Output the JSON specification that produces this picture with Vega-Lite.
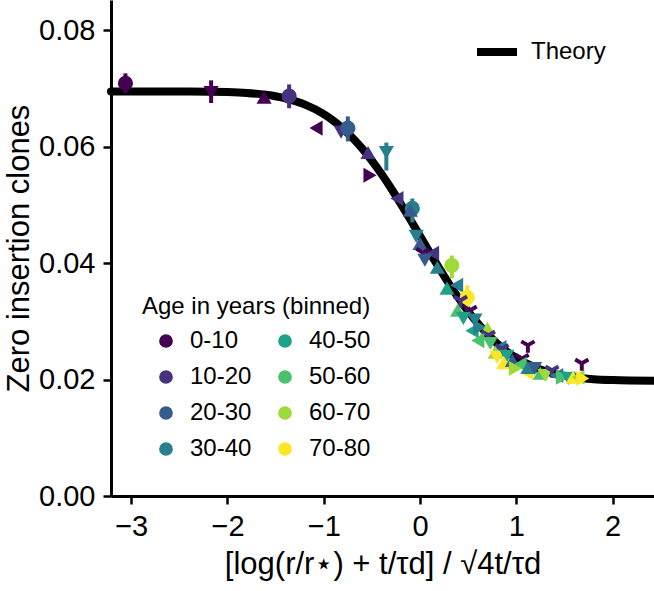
{
  "$schema": "https://vega.github.io/schema/vega-lite/v6.json",
  "width": 543,
  "height": 496,
  "autosize": {"type": "none"},
  "padding": {"left": 111, "top": 0, "right": 0, "bottom": 95},
  "background": "white",
  "config": {
    "view": {"stroke": null},
    "font": "Liberation Sans",
    "axis": {
      "grid": false,
      "domainColor": "black",
      "domainWidth": 3,
      "tickColor": "black",
      "tickWidth": 2.5,
      "tickSize": 8,
      "labelColor": "black",
      "labelFont": "Liberation Sans",
      "labelFontSize": 29,
      "labelPadding": 6,
      "titleColor": "black",
      "titleFont": "Liberation Sans",
      "titleFontSize": 31,
      "titleFontWeight": "normal"
    },
    "legend": {
      "labelFont": "Liberation Sans",
      "titleFont": "Liberation Sans",
      "labelColor": "black",
      "titleColor": "black"
    }
  },
  "datasets": {
    "theory": [
      {"x": -3.21, "y": 0.0695, "label": "Theory"},
      {"x": -2.4, "y": 0.06948, "label": "Theory"},
      {"x": -2.0, "y": 0.06938, "label": "Theory"},
      {"x": -1.8, "y": 0.06923, "label": "Theory"},
      {"x": -1.6, "y": 0.06891, "label": "Theory"},
      {"x": -1.4, "y": 0.06831, "label": "Theory"},
      {"x": -1.2, "y": 0.06727, "label": "Theory"},
      {"x": -1.0, "y": 0.06559, "label": "Theory"},
      {"x": -0.9, "y": 0.06445, "label": "Theory"},
      {"x": -0.8, "y": 0.06309, "label": "Theory"},
      {"x": -0.7, "y": 0.06149, "label": "Theory"},
      {"x": -0.6, "y": 0.05966, "label": "Theory"},
      {"x": -0.5, "y": 0.05758, "label": "Theory"},
      {"x": -0.4, "y": 0.0553, "label": "Theory"},
      {"x": -0.3, "y": 0.05282, "label": "Theory"},
      {"x": -0.2, "y": 0.05018, "label": "Theory"},
      {"x": -0.1, "y": 0.04745, "label": "Theory"},
      {"x": 0.0, "y": 0.04465, "label": "Theory"},
      {"x": 0.1, "y": 0.04185, "label": "Theory"},
      {"x": 0.2, "y": 0.03912, "label": "Theory"},
      {"x": 0.3, "y": 0.03648, "label": "Theory"},
      {"x": 0.4, "y": 0.034, "label": "Theory"},
      {"x": 0.5, "y": 0.03172, "label": "Theory"},
      {"x": 0.6, "y": 0.02964, "label": "Theory"},
      {"x": 0.7, "y": 0.02781, "label": "Theory"},
      {"x": 0.8, "y": 0.02621, "label": "Theory"},
      {"x": 0.9, "y": 0.02485, "label": "Theory"},
      {"x": 1.0, "y": 0.02371, "label": "Theory"},
      {"x": 1.2, "y": 0.02203, "label": "Theory"},
      {"x": 1.4, "y": 0.02099, "label": "Theory"},
      {"x": 1.6, "y": 0.02039, "label": "Theory"},
      {"x": 1.8, "y": 0.02007, "label": "Theory"},
      {"x": 2.0, "y": 0.01992, "label": "Theory"},
      {"x": 2.43, "y": 0.0198, "label": "Theory"}
    ],
    "pts": [
      {"x": -3.06, "y": 0.0709, "age": "0-10", "m": "o", "lo": 0.0692, "hi": 0.0726},
      {"x": -2.17, "y": 0.0693, "age": "0-10", "m": "v", "lo": 0.0675, "hi": 0.0714},
      {"x": -1.62, "y": 0.0685, "age": "0-10", "m": "^"},
      {"x": -1.36, "y": 0.0687, "age": "10-20", "m": "o", "lo": 0.0666, "hi": 0.0707},
      {"x": -1.08, "y": 0.0632, "age": "0-10", "m": "<"},
      {"x": -0.82, "y": 0.0625, "age": "10-20", "m": "v"},
      {"x": -0.75, "y": 0.0632, "age": "20-30", "m": "o", "lo": 0.0609, "hi": 0.0652},
      {"x": -0.54, "y": 0.059, "age": "10-20", "m": "^"},
      {"x": -0.35, "y": 0.059, "age": "30-40", "m": "v", "lo": 0.0559, "hi": 0.0607},
      {"x": -0.52, "y": 0.0551, "age": "0-10", "m": ">"},
      {"x": -0.24, "y": 0.0511, "age": "10-20", "m": "<"},
      {"x": -0.08, "y": 0.0494, "age": "30-40", "m": "o", "lo": 0.047, "hi": 0.0511},
      {"x": -0.1, "y": 0.0491, "age": "20-30", "m": "^"},
      {"x": -0.04, "y": 0.0446, "age": "30-40", "m": "v"},
      {"x": 0.0, "y": 0.0434, "age": "20-30", "m": "^"},
      {"x": 0.03, "y": 0.0418, "age": "0-10", "m": "Y"},
      {"x": 0.13, "y": 0.0417, "age": "10-20", "m": "<"},
      {"x": 0.05, "y": 0.0405, "age": "20-30", "m": "v"},
      {"x": 0.18, "y": 0.0393, "age": "30-40", "m": "^"},
      {"x": 0.33, "y": 0.0396, "age": "60-70", "m": "o", "lo": 0.0374, "hi": 0.0413},
      {"x": 0.28, "y": 0.0357, "age": "40-50", "m": "^"},
      {"x": 0.38, "y": 0.0362, "age": "30-40", "m": "<"},
      {"x": 0.49, "y": 0.0341, "age": "70-80", "m": "o", "lo": 0.0319, "hi": 0.0362},
      {"x": 0.42, "y": 0.0336, "age": "10-20", "m": "Y"},
      {"x": 0.39, "y": 0.0319, "age": "50-60", "m": "^"},
      {"x": 0.52, "y": 0.0319, "age": "0-10", "m": "Y"},
      {"x": 0.45, "y": 0.0305, "age": "40-50", "m": "v"},
      {"x": 0.57, "y": 0.0302, "age": "30-40", "m": "v"},
      {"x": 0.54, "y": 0.0284, "age": "40-50", "m": "<"},
      {"x": 0.62, "y": 0.029, "age": "30-40", "m": ">"},
      {"x": 0.7, "y": 0.0288, "age": "60-70", "m": "^"},
      {"x": 0.71, "y": 0.0276, "age": "10-20", "m": "Y"},
      {"x": 0.6, "y": 0.0267, "age": "50-60", "m": "<"},
      {"x": 0.73, "y": 0.0262, "age": "50-60", "m": "v"},
      {"x": 0.83, "y": 0.0255, "age": "30-40", "m": "<"},
      {"x": 0.85, "y": 0.0253, "age": "10-20", "m": "Y"},
      {"x": 0.78, "y": 0.0247, "age": "60-70", "m": "^"},
      {"x": 0.8, "y": 0.0238, "age": "70-80", "m": "v"},
      {"x": 0.9, "y": 0.024, "age": "40-50", "m": "v"},
      {"x": 0.87, "y": 0.0229, "age": "70-80", "m": "^"},
      {"x": 0.96, "y": 0.0233, "age": "20-30", "m": "^"},
      {"x": 1.06, "y": 0.0236, "age": "0-10", "m": "Y"},
      {"x": 1.04, "y": 0.0226, "age": "50-60", "m": "<"},
      {"x": 0.99, "y": 0.0219, "age": "60-70", "m": ">"},
      {"x": 1.11, "y": 0.0212, "age": "70-80", "m": "<"},
      {"x": 1.12, "y": 0.0221, "age": "30-40", "m": "^"},
      {"x": 1.19, "y": 0.0219, "age": "20-30", "m": "v"},
      {"x": 1.25, "y": 0.0211, "age": "50-60", "m": "^"},
      {"x": 1.3, "y": 0.0207, "age": "60-70", "m": "v"},
      {"x": 1.37, "y": 0.0216, "age": "10-20", "m": "Y"},
      {"x": 1.42, "y": 0.0207, "age": "30-40", "m": "<"},
      {"x": 1.48, "y": 0.0204, "age": "50-60", "m": ">"},
      {"x": 1.54, "y": 0.0202, "age": "40-50", "m": "v"},
      {"x": 1.59, "y": 0.0204, "age": "70-80", "m": "^"},
      {"x": 1.64, "y": 0.0204, "age": "60-70", "m": "<"},
      {"x": 1.69, "y": 0.0202, "age": "70-80", "m": ">"},
      {"x": 1.12, "y": 0.0259, "age": "0-10", "m": "Y"},
      {"x": 1.68, "y": 0.0228, "age": "0-10", "m": "Y"}
    ]
  },
  "layer": [
    {
      "data": {"name": "theory"},
      "mark": {"type": "line", "strokeWidth": 8, "strokeCap": "round", "interpolate": "monotone"},
      "encoding": {
        "x": {"field": "x", "type": "quantitative"},
        "y": {"field": "y", "type": "quantitative"},
        "stroke": {
          "field": "label",
          "type": "nominal",
          "scale": {"range": ["black"]},
          "legend": {
            "title": null,
            "orient": "none",
            "legendX": 362,
            "legendY": 28,
            "symbolType": "stroke",
            "symbolStrokeWidth": 8,
            "symbolSize": 1600,
            "labelFontSize": 24,
            "labelOffset": 10
          }
        }
      }
    },
    {
      "data": {"name": "pts"},
      "transform": [{"filter": "isValid(datum.lo)"}],
      "mark": {"type": "rule", "strokeWidth": 4},
      "encoding": {
        "x": {"field": "x", "type": "quantitative"},
        "y": {"field": "lo", "type": "quantitative"},
        "y2": {"field": "hi"},
        "color": {"field": "age", "type": "nominal"}
      }
    },
    {
      "data": {"name": "pts"},
      "mark": {"type": "point", "filled": true, "opacity": 1, "size": 230},
      "encoding": {
        "x": {
          "field": "x",
          "type": "quantitative",
          "scale": {"domain": [-3.21, 2.43], "nice": false, "zero": false},
          "axis": {"values": [-3, -2, -1, 0, 1, 2], "format": "d", "labelPadding": 8, "titlePadding": 8, "title": "[log(r/r⋆) + t/τd] / √4t/τd"}
        },
        "y": {
          "field": "y",
          "type": "quantitative",
          "scale": {"domain": [0, 0.0852], "nice": false, "zero": false},
          "axis": {"values": [0, 0.02, 0.04, 0.06, 0.08], "format": ".2f", "labelPadding": 8, "titlePadding": 3, "title": "Zero insertion clones"}
        },
        "color": {
          "field": "age",
          "type": "nominal",
          "scale": {
            "domain": ["0-10", "10-20", "20-30", "30-40", "40-50", "50-60", "60-70", "70-80"],
            "range": ["#440154", "#46327e", "#365c8d", "#277f8e", "#1fa187", "#4ac16d", "#a0da39", "#fde725"]
          },
          "legend": {
            "title": "Age in years (binned)",
            "titleLimit": 400,
            "orient": "none",
            "legendX": 31,
            "legendY": 295,
            "columns": 2,
            "direction": "vertical",
            "symbolType": "circle",
            "symbolSize": 150,
            "symbolOffset": 12,
            "labelFontSize": 24,
            "titleFontSize": 24,
            "titleFontWeight": "normal",
            "titlePadding": 10,
            "rowPadding": 12,
            "columnPadding": 9,
            "labelOffset": 12
          }
        },
        "shape": {
          "field": "m",
          "type": "nominal",
          "scale": {
            "domain": ["o", "v", "^", "<", ">", "Y"],
            "range": ["circle", "triangle-down", "triangle-up", "triangle-left", "triangle-right", "M0.26,1L-0.26,1L-0.26,0.15L-1,-0.28L-0.74,-0.73L0,-0.3L0.74,-0.73L1,-0.28L0.26,0.15Z"]
          },
          "legend": null
        }
      }
    }
  ]
}
